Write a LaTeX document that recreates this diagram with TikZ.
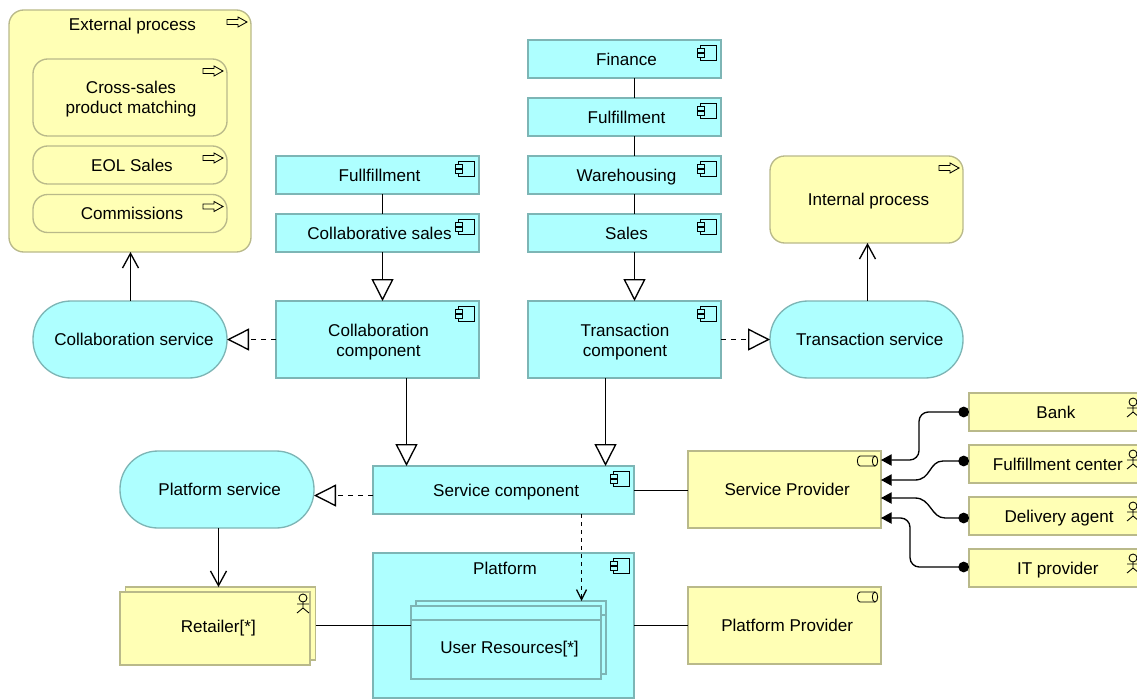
\documentclass[tikz,border=0pt]{standalone}
\usepackage{fontspec}
\setmainfont{Liberation Sans}
\usepackage{xcolor}
\usetikzlibrary{arrows.meta}
\definecolor{appfill}{HTML}{AEFFFF}
\definecolor{appline}{HTML}{7DB5B5}
\definecolor{bizfill}{HTML}{FFFFB5}
\definecolor{bizline}{HTML}{B9B98A}

% one unit of the picture is one pixel of the reference
\def\px{0.75pt}

% the small icons in the corner of a box, placed from its north east anchor
\def\compicon#1{
    \begin{scope}[shift={(#1.north east)},icon]
        \draw (-21,5) rectangle (-5,20);
        \draw[fill=appfill] (-24,8) rectangle (-17,12);
        \draw[fill=appfill] (-24,13) rectangle (-17,17);
    \end{scope}}
\def\procicon#1{
    \begin{scope}[shift={(#1.north east)},icon]
        \draw (-24,9.5) -- (-13,9.5) -- (-13,7) -- (-4,12) -- (-13,17) -- (-13,14.5) -- (-24,14.5) -- cycle;
    \end{scope}}
\def\actoricon#1#2{
    \begin{scope}[shift={(#1.north east)},yshift=#2*\px,icon]
        \draw (-7,9) circle (4);
        \draw (-7,13) -- (-7,19) (-13,15) -- (-1,15) (-13,24) -- (-7,19) -- (-1,24);
    \end{scope}}
\def\ifaceicon#1{
    \begin{scope}[shift={(#1.north east)},icon]
        \draw (-6,5) -- (-21,5) arc[start angle=90,end angle=270,x radius=2pt,y radius=3.75pt] -- (-6,15);
        \draw (-6,10) ellipse (2pt and 3.75pt);
    \end{scope}}

\begin{document}
\begin{tikzpicture}[x=\px,y=-\px,font=\fontsize{12.8}{15}\selectfont]
    \tikzstyle{icon}=[line width=0.65pt,draw=black]
    \tikzstyle{box}=[rectangle,draw,line width=1pt,inner sep=0pt,outer sep=0pt,align=center,text height=9.5pt,text depth=0.5pt]
    \tikzstyle{comp}=[box,draw=appline,fill=appfill]
    \tikzstyle{actor}=[box,draw=bizline,fill=bizfill]
    \tikzstyle{proc}=[actor,rounded corners=11pt]
    \tikzstyle{serv}=[comp,rounded corners=28.5pt,minimum width=194*\px,minimum height=77*\px]
    \tikzstyle{small}=[minimum width=193*\px,minimum height=38*\px]
    \tikzstyle{large}=[minimum width=193*\px,minimum height=77*\px]
    \tikzstyle{annot}=[inner sep=0pt,text height=9.5pt,text depth=0.5pt]
    \tikzstyle{annottwo}=[inner sep=0pt,align=center]
    \tikzstyle{line}=[line width=1pt,draw=black]
    \tikzstyle{realize}=[line,dashed,dash pattern=on 4pt off 3.5pt,-{Triangle[open,fill=white,length=16.5pt,width=16.5pt]}]
    \tikzstyle{special}=[line,-{Triangle[open,fill=white,length=16.5pt,width=16.5pt]}]
    \tikzstyle{flow}=[line,-{Straight Barb[length=11pt,width=12pt]}]
    \tikzstyle{assign}=[line,{Circle[length=8pt,width=8pt]}-{Triangle[length=8pt,width=8.5pt]}]

    \useasboundingbox (0,0) rectangle (1137,699);

    % External process with the processes inside it
    \node[proc,minimum width=242*\px,minimum height=242*\px] (ext) at (130,131) {};
    \node[annot] (extlabel) at (132.5,25) {External process};
    \node[proc,small,minimum width=194*\px,minimum height=77*\px] (match) at (130,97.5) {};
    \node[annottwo] (matchlabel) at (131,99) {Cross-sales\\product matching};
    \foreach \name / \y / \txt in {eol/165/EOL Sales,comm/213.5/Commissions}
        \node[proc,small,minimum width=194*\px] (\name) at (130,\y) {\hspace{3pt}\txt};

    % Draw the stack above the collaboration component
    \foreach \name / \y / \txt in {fullf/175/Fullfillment,colsales/233/Collaborative sales}
        \node[comp,small,minimum width=203*\px] (\name) at (377.5,\y) {\hspace{3pt}\txt};

    % Draw the stack above the transaction component
    \foreach \name / \y / \txt in {fin/59/Finance,ful/117/Fulfillment,ware/175/Warehousing,sales/233/Sales}
        \node[comp,small] (\name) at (624.5,\y) {\hspace{3pt}\txt};

    % Components and services of the middle rows
    \node[comp,large,minimum width=203*\px] (colcomp) at (377.5,339.5) {};
    \node[annottwo] (colcomplabel) at (378.5,342) {Collaboration\\component};
    \node[comp,large] (transcomp) at (624.5,339.5) {};
    \node[annottwo] (transcomplabel) at (625,342) {Transaction\\component};
    \node[serv] (colserv) at (130,339.5) {\hspace{6pt}Collaboration service};
    \node[serv,minimum width=193*\px] (transserv) at (866.5,339.5) {\hspace{5pt}Transaction service};
    \node[proc,large,minimum height=87*\px] (intproc) at (866.5,199.5) {\hspace{3pt}Internal process};
    \node[serv] (platserv) at (217,489.5) {\hspace{4pt}Platform service};
    \node[comp,minimum width=261*\px,minimum height=48*\px] (servcomp) at (503.5,490) {\hspace{4pt}Service component};

    % Providers on the right
    \node[actor,large] (servprov) at (784.5,489.5) {\hspace{4pt}Service Provider};
    \node[actor,large] (platprov) at (784.5,625.5) {\hspace{4pt}Platform Provider};
    \foreach \name / \y / \dx / \txt in {bank/412/2/Bank,center/464/5/Fulfillment center,agent/516/7/Delivery agent,itprov/568/5/IT provider}
        \node[actor,minimum width=171*\px,minimum height=38*\px] (\name) at (1054.5,\y) {\hspace{\dx pt}\txt};

    % Platform holds the user resources, both of these are stacked
    \node[comp,minimum width=261*\px,minimum height=145*\px] (plat) at (503.5,625.5) {};
    \node[annot] (platlabel) at (505,568) {Platform};
    \node[comp,minimum width=190*\px,minimum height=73*\px] (userback) at (511,637.5) {};
    \coordinate (backl) at (416,615);
    \coordinate (backr) at (606,615);
    \draw[draw=appline,line width=1pt] (backl) -- (backr);
    \node[comp,minimum width=190*\px,minimum height=73*\px] (user) at (506,642.5) {};
    \coordinate (headl) at (411,620);
    \coordinate (headr) at (601,620);
    \draw[draw=appline,line width=1pt] (headl) -- (headr);
    \node[annot] (userlabel) at (509.5,647) {User Resources[*]};

    % Retailer is stacked too
    \node[actor,minimum width=190*\px,minimum height=73*\px] (retback) at (220.5,623.5) {};
    \node[actor,text depth=3pt,minimum width=190*\px,minimum height=73*\px] (retail) at (215,628.5) {\hspace{5pt}Retailer[*]};

    % Icons
    \foreach \name in {fullf,colsales,fin,ful,ware,sales,colcomp,transcomp,servcomp,plat}
        {\compicon{\name}}
    \foreach \name in {ext,match,eol,comm,intproc}
        {\procicon{\name}}
    \foreach \name / \dy in {bank/0,center/0,agent/0,itprov/0,retail/3}
        {\actoricon{\name}{\dy}}
    \foreach \name in {servprov,platprov}
        {\ifaceicon{\name}}

    % Plain associations
    \draw[line] (fin.south -| 634.5,0) -- (ful.north -| 634.5,0);
    \draw[line] (ful.south -| 634.5,0) -- (ware.north -| 634.5,0);
    \draw[line] (ware.south -| 634.5,0) -- (sales.north -| 634.5,0);
    \draw[line] (fullf.south -| 382.5,0) -- (colsales.north -| 382.5,0);
    \draw[line] (servcomp.east |- 0,490.5) -- (servprov.west |- 0,490.5);
    \draw[line] (plat.east) -- (platprov.west);
    \draw[line] (retback.east |- 0,625.5) -- (user.west |- 0,625.5);

    % Specialization
    \draw[special] (colsales.south -| 382.5,0) -- (colcomp.north -| 382.5,0);
    \draw[special] (sales.south -| 634.5,0) -- (transcomp.north -| 634.5,0);
    \draw[special] (colcomp.south -| 406.5,0) -- (servcomp.north -| 406.5,0);
    \draw[special] (transcomp.south -| 605.5,0) -- (servcomp.north -| 605.5,0);

    % Realization
    \draw[realize] (colcomp.west) -- (colserv.east);
    \draw[realize] (transcomp.east) -- (transserv.west);
    \draw[realize] (servcomp.west |- 0,495.5) -- (platserv.east |- 0,495.5);

    % Open arrows
    \draw[flow] (colserv.north -| 130.5,0) -- (ext.south -| 130.5,0);
    \draw[flow] (transserv.north -| 867.5,0) -- (intproc.south -| 867.5,0);
    \draw[flow] (platserv.south -| 218.5,0) -- (retback.north -| 218.5,0);
    \draw[flow,dashed,dash pattern=on 3pt off 3pt,-{Straight Barb[length=7.5pt,width=7.5pt]}] (servcomp.south -| 581.5,0) -- (userback.north -| 581.5,0);

    % Assignments to the service provider
    \draw[assign,rounded corners=7pt] (bank.west) -- (919,412) -- (919,460) -- (servprov.east |- 0,460);
    \draw[assign] (center.west |- 0,461) -- (943,461) .. controls (929,461) and (931,480) .. (915,480) -- (servprov.east |- 0,480);
    \draw[assign] (agent.west |- 0,518) -- (945,518) .. controls (931,518) and (931,498) .. (915,498) -- (servprov.east |- 0,498);
    \draw[assign,rounded corners=7pt] (itprov.west |- 0,567) -- (910,567) -- (910,518) -- (servprov.east |- 0,518);

\end{tikzpicture}
\end{document}
